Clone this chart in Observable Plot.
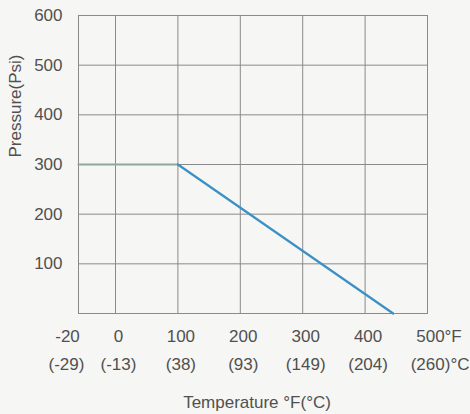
<!DOCTYPE html>
<html>
<head>
<meta charset="utf-8">
<script src="https://cdn.jsdelivr.net/npm/d3@7"></script>
<script src="https://cdn.jsdelivr.net/npm/@observablehq/plot@0.6"></script>
<style>
  html, body { margin: 0; padding: 0; background: #f6f6f4; }
  #chart svg { display: block; }
</style>
</head>
<body>
<div id="chart"></div>
<script>
// Pressure–temperature rating curve
const tempF    = [-20, 100, 100, 445];
const pressure = [300, 300, 300, 0];
const segment  = ["flat", "flat", "slope", "slope"];

// Axis ticks
const xTicks      = [-20, 0, 100, 200, 300, 400, 500];
const xLabelsF    = ["-20", "0", "100", "200", "300", "400", "500"];
const xLabelsC    = ["(-29)", "(-13)", "(38)", "(93)", "(149)", "(204)", "(260)"];
const xGrid       = [0, 100, 200, 300, 400];
const yTicks      = [100, 200, 300, 400, 500, 600];
const yGrid       = [100, 200, 300, 400, 500];
const unitF = "°F";
const unitC = "°C";
const xTitle = "Temperature °F(°C)";
const yTitle = "Pressure(Psi)";

const curve = tempF.map((t, i) => ({t, p: pressure[i], s: segment[i]}));
const xl = xTicks.map((x, i) => ({x, f: xLabelsF[i], c: xLabelsC[i]}));
const first = xl.slice(0, 1);
const rest = xl.slice(1);
const last = xl.slice(-1);

const font = "'Liberation Sans', Arial, sans-serif";
const txt = "#505050";
const gridC = "#8a8a8a";
const fs = 17;

const chart = Plot.plot({
  width: 470,
  height: 414,
  marginLeft: 78,
  marginRight: 43,
  marginTop: 15,
  marginBottom: 101,
  style: {background: "#f6f6f4", fontFamily: font, fontSize: fs + "px", color: txt},
  x: {type: "linear", domain: [-20, 0, 500], range: [78, 115, 427], axis: null},
  y: {domain: [0, 600], axis: null},
  color: {domain: ["flat", "slope"], range: ["#8fa6a3", "#3a91c5"]},
  marks: [
    Plot.ruleX(xGrid, {stroke: gridC, strokeWidth: 1}),
    Plot.ruleY(yGrid, {stroke: gridC, strokeWidth: 1}),
    Plot.frame({stroke: gridC, strokeWidth: 1}),
    Plot.line(curve, {x: "t", y: "p", z: "s", stroke: "s", strokeWidth: 2.2}),
    // y tick labels
    Plot.text(yTicks, {y: d => d, frameAnchor: "left", text: d => String(d), textAnchor: "end", dx: -16, fill: txt, fontSize: fs}),
    // x tick labels (°F row)
    Plot.text(first, {x: "x", y: () => 0, text: "f", dy: 23, dx: -11, fill: txt, fontSize: fs}),
    Plot.text(rest, {x: "x", y: () => 0, text: "f", dy: 23, dx: 3, fill: txt, fontSize: fs}),
    // x tick labels (°C row)
    Plot.text(first, {x: "x", y: () => 0, text: "c", dy: 51, dx: -12, fill: txt, fontSize: fs}),
    Plot.text(rest, {x: "x", y: () => 0, text: "c", dy: 51, dx: 3, fill: txt, fontSize: fs}),
    // unit suffixes
    Plot.text(last, {x: "x", y: () => 0, text: () => unitF, dy: 23, dx: 17, textAnchor: "start", fill: txt, fontSize: fs}),
    Plot.text(last, {x: "x", y: () => 0, text: () => unitC, dy: 51, dx: 23, textAnchor: "start", fill: txt, fontSize: fs}),
    // axis titles
    Plot.text([xTitle], {frameAnchor: "bottom", lineAnchor: "middle", text: d => d, dy: 89, dx: 4, fill: txt, fontSize: fs}),
    Plot.text([yTitle], {frameAnchor: "left", text: d => d, rotate: -90, dx: -63, dy: -7, fill: txt, fontSize: fs})
  ]
});
document.getElementById("chart").append(chart);
</script>
</body>
</html>
